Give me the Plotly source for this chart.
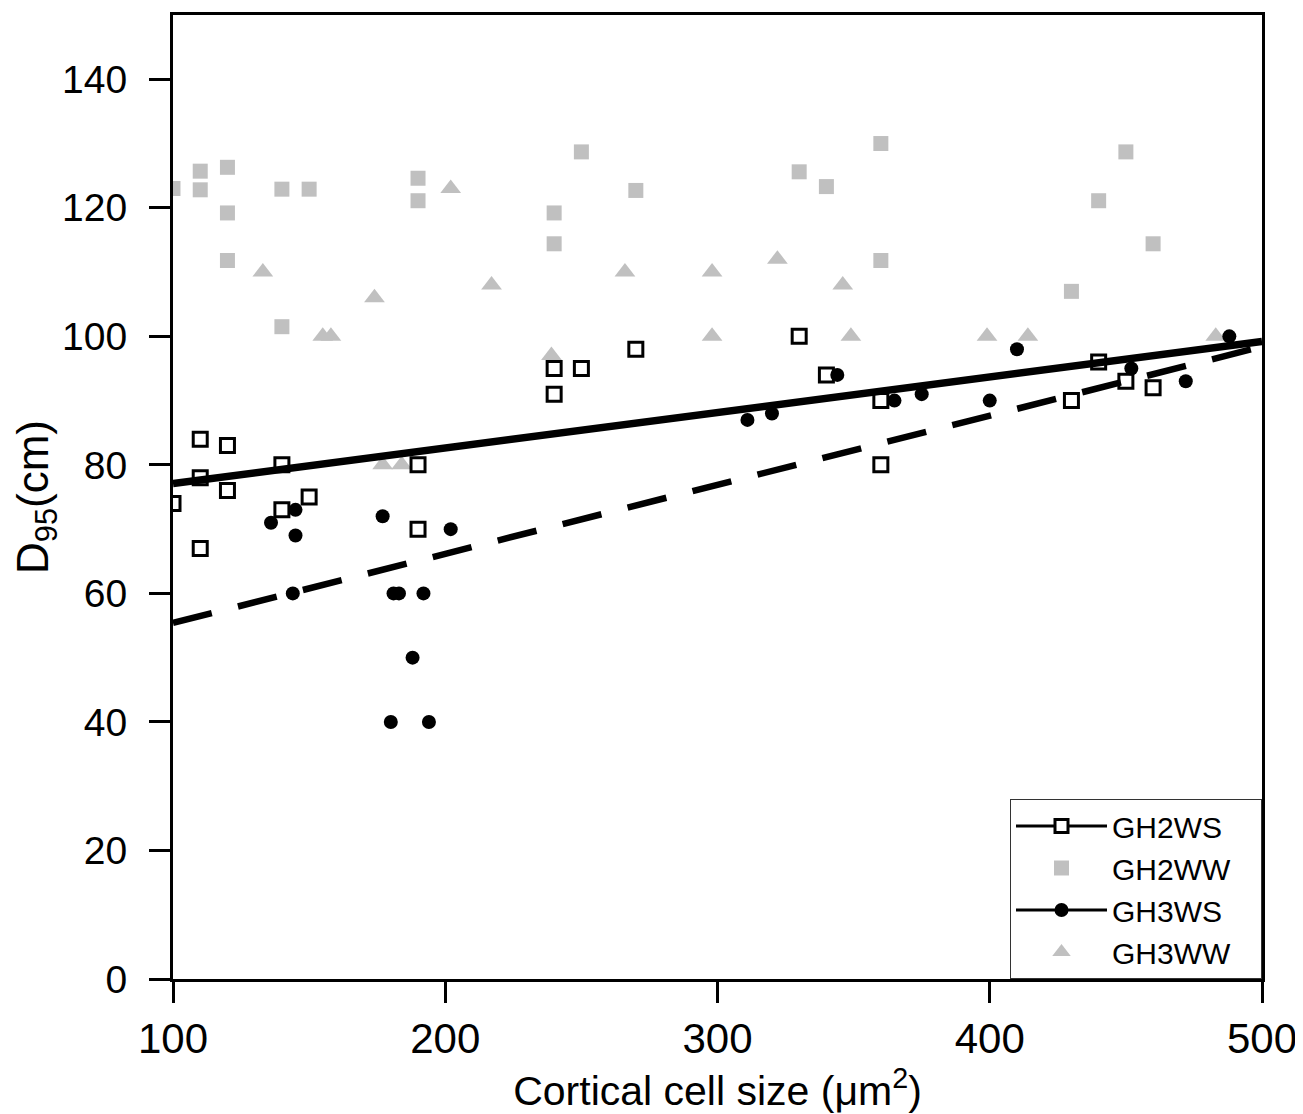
import plotly.graph_objects as go

# ---- data ----
gh2ws_x = [100, 110, 110, 110, 120, 120, 140, 140, 150, 190, 190, 240, 240, 250, 270, 330, 340, 360, 360, 430, 440, 450, 460]
gh2ws_y = [74, 84, 78, 67, 83, 76, 80, 73, 75, 80, 70, 95, 91, 95, 98, 100, 94, 90, 80, 90, 96, 93, 92]

gh2ww_x = [100, 110, 110, 120, 120, 120, 140, 150, 140, 190, 190, 240, 240, 250, 270, 330, 340, 360, 360, 430, 440, 450, 460]
gh2ww_y = [123, 125.7, 122.8, 126.3, 119.2, 111.8, 122.9, 122.9, 101.5, 124.6, 121.1, 119.2, 114.4, 128.7, 122.7,
           125.6, 123.3, 130, 111.8, 107, 121.1, 128.7, 114.4]

gh3ws_x = [136, 145, 145, 144, 177, 181, 183, 192, 188, 180, 194, 202, 311, 320, 344, 365, 375, 400, 410, 452, 472, 488]
gh3ws_y = [71, 73, 69, 60, 72, 60, 60, 60, 50, 40, 40, 70, 87, 88, 94, 90, 91, 90, 98, 95, 93, 100]

gh3ww_x = [133, 155, 158, 174, 177, 184, 202, 217, 239, 266, 298, 298, 322, 346, 349, 399, 414, 483]
gh3ww_y = [110, 100, 100, 106, 80, 80, 123, 108, 97, 110, 110, 100, 112, 108, 100, 100, 100, 100]

# regression lines (values at the ends of the x range)
fit_x = [100, 500]
gh2ws_fit_y = [77.1, 99.2]
gh3ws_fit_y = [55.4, 98.4]

series_names = ["GH2WS", "GH2WW", "GH3WS", "GH3WW"]
x_ticks = [100, 200, 300, 400, 500]
y_ticks = [0, 20, 40, 60, 80, 100, 120, 140]

GREY = "#c0c0c0"
FONT = "Liberation Sans, Arial, sans-serif"
PAD = "\u00a0\u00a0\u00a0"  # right padding inside the legend box

fig = go.Figure()

# data markers (no legend)
fig.add_trace(go.Scatter(x=gh2ww_x, y=gh2ww_y, mode="markers", showlegend=False,
                         marker=dict(symbol="square", size=15, color=GREY, line=dict(width=0))))
fig.add_trace(go.Scatter(x=gh3ww_x, y=gh3ww_y, mode="markers", showlegend=False,
                         marker=dict(symbol="triangle-up", size=18, color=GREY, line=dict(width=0))))
fig.add_trace(go.Scatter(x=gh2ws_x, y=gh2ws_y, mode="markers", showlegend=False,
                         marker=dict(symbol="square-open", size=14, color="black", line=dict(width=3, color="black"))))
fig.add_trace(go.Scatter(x=gh3ws_x, y=gh3ws_y, mode="markers", showlegend=False,
                         marker=dict(symbol="circle", size=14, color="black", line=dict(width=0))))

# fit lines
fig.add_trace(go.Scatter(x=fit_x, y=gh2ws_fit_y, mode="lines", showlegend=False,
                         line=dict(color="black", width=7.5)))
fig.add_trace(go.Scatter(x=fit_x, y=gh3ws_fit_y, mode="lines", showlegend=False,
                         line=dict(color="black", width=6.5, dash="40px,27px")))

# legend entries
fig.add_trace(go.Scatter(x=[None], y=[None], mode="lines+markers", name=series_names[0] + PAD, legendrank=1,
                         line=dict(color="black", width=3),
                         marker=dict(symbol="square", size=13, color="white", line=dict(width=3, color="black"))))
fig.add_trace(go.Scatter(x=[None], y=[None], mode="markers", name=series_names[1] + PAD, legendrank=2,
                         marker=dict(symbol="square", size=15, color=GREY)))
fig.add_trace(go.Scatter(x=[None], y=[None], mode="lines+markers", name=series_names[2] + PAD, legendrank=3,
                         line=dict(color="black", width=3),
                         marker=dict(symbol="circle", size=14, color="black")))
fig.add_trace(go.Scatter(x=[None], y=[None], mode="markers", name=series_names[3] + PAD, legendrank=4,
                         marker=dict(symbol="triangle-up", size=16, color=GREY)))

# the page adds an 8px body margin, so the figure is 8px smaller than the window
fig.update_layout(
    width=1295, height=1106,
    margin=dict(l=165, r=41, t=4, b=135),
    paper_bgcolor="white", plot_bgcolor="white",
    font=dict(family=FONT, color="black"),
    legend=dict(x=1, y=0, xanchor="right", yanchor="bottom",
                bgcolor="white", bordercolor="#333333", borderwidth=1,
                font=dict(size=30, family=FONT), itemwidth=91,
                tracegroupgap=0),
    xaxis=dict(range=[100, 500], tickvals=x_ticks, ticktext=[str(v) for v in x_ticks],
               showline=True, mirror=True, linecolor="black", linewidth=3,
               ticks="outside", ticklen=21, tickwidth=3, tickcolor="black",
               showgrid=False, zeroline=False, tickfont=dict(size=42),
               title=dict(text="Cortical cell size (μm<sup>2</sup>)", font=dict(size=41), standoff=8)),
    yaxis=dict(range=[0, 150], tickvals=y_ticks, ticktext=[str(v) for v in y_ticks],
               showline=True, mirror=True, linecolor="black", linewidth=3,
               ticks="outside", ticklen=21, tickwidth=3, tickcolor="black",
               showgrid=False, zeroline=False, tickfont=dict(size=39), ticklabelstandoff=14,
               title=dict(text="D<sub>95</sub>(cm)", font=dict(size=44), standoff=2)),
)

fig.write_html("out.html")
